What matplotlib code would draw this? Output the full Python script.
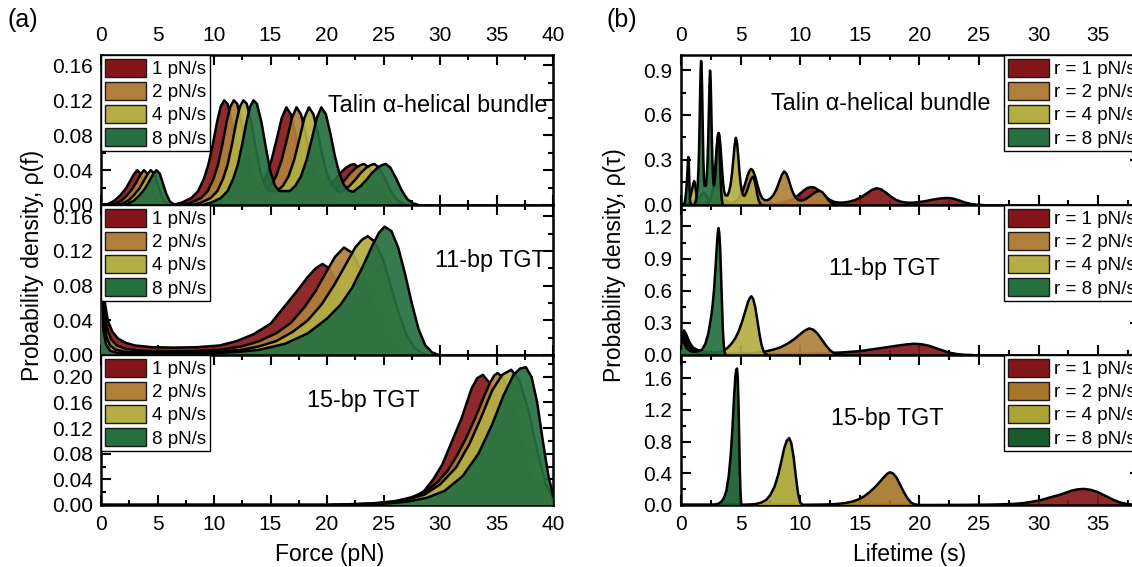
import matplotlib
matplotlib.use("Agg")
import matplotlib.pyplot as plt
from matplotlib.patches import Patch
from matplotlib.ticker import MultipleLocator, FormatStrFormatter

plt.rcParams['font.family'] = ['Liberation Sans', 'DejaVu Sans']

# ---------------- data ----------------
RATE_LABELS_A = ["1 pN/s", "2 pN/s", "4 pN/s", "8 pN/s"]
RATE_LABELS_B = ["r = 1 pN/s", "r = 2 pN/s", "r = 4 pN/s", "r = 8 pN/s"]
PANEL_NAMES = ["Talin \u03b1-helical bundle", "11-bp TGT", "15-bp TGT"]

# (a) Talin, force distributions
TALIN_F_X_1 = [0, 0.6, 1.2, 1.7, 2.2, 2.6, 2.9, 3.2, 3.5, 3.8, 4.1, 4.4, 4.8, 5.2, 6.4, 7.2, 8.0, 8.6, 9.1, 9.5,
               9.9, 10.3, 10.6, 10.9, 11.2, 11.6, 12.0, 12.4, 12.8, 13.2, 13.6, 14.1, 14.6, 15.1, 15.6, 16.0, 16.4,
               16.8, 17.2, 17.6, 18.0, 18.4, 18.8, 19.2, 19.7, 20.2, 20.7, 21.2, 21.7, 22.1, 22.4, 22.8, 23.3, 23.8,
               24.3, 24.8, 25.3]
TALIN_F_X_2 = [0, 1.2, 1.8, 2.3, 2.8, 3.2, 3.5, 3.8, 4.1, 4.4, 4.7, 5.0, 5.4, 5.8, 7.25, 8.05, 8.85, 9.45, 9.95,
               10.35, 10.75, 11.15, 11.45, 11.75, 12.05, 12.45, 12.85, 13.25, 13.65, 14.05, 14.5, 15.0, 15.5, 16.0,
               16.5, 16.9, 17.3, 17.7, 18.1, 18.5, 18.9, 19.3, 19.7, 20.1, 20.6, 21.1, 21.6, 22.1, 22.6, 23.0, 23.3,
               23.7, 24.2, 24.7, 25.2, 25.7, 26.2]
TALIN_F_X_4 = [0, 1.8, 2.4, 2.9, 3.4, 3.8, 4.1, 4.4, 4.7, 5.0, 5.3, 5.6, 6.0, 6.4, 8.1, 8.9, 9.7, 10.3, 10.8, 11.2,
               11.6, 12.0, 12.3, 12.6, 12.9, 13.3, 13.7, 14.1, 14.5, 14.9, 15.6, 16.1, 16.6, 17.1, 17.6, 18.0, 18.4,
               18.8, 19.2, 19.6, 20.0, 20.4, 20.8, 21.2, 21.5, 22.0, 22.5, 23.0, 23.5, 23.9, 24.2, 24.6, 25.1, 25.6,
               26.1, 26.6, 27.1]
TALIN_F_X_8 = [0, 2.3, 2.9, 3.4, 3.9, 4.3, 4.6, 4.9, 5.2, 5.5, 5.8, 6.1, 6.5, 6.9, 9.0, 9.8, 10.6, 11.2, 11.7, 12.1,
               12.5, 12.9, 13.2, 13.5, 13.8, 14.2, 14.6, 15.0, 15.4, 15.8, 16.7, 17.2, 17.7, 18.2, 18.7, 19.1, 19.5,
               19.9, 20.3, 20.7, 21.1, 21.5, 21.9, 22.3, 22.5, 23.0, 23.5, 24.0, 24.5, 24.9, 25.2, 25.6, 26.1, 26.6,
               27.1, 27.6, 28.1]
TALIN_F_Y = [0, 0.001, 0.005, 0.011, 0.019, 0.028, 0.035, 0.040, 0.036, 0.024, 0.012, 0.004, 0.0005, 0, 0, 0.003,
             0.008, 0.016, 0.030, 0.046, 0.070, 0.097, 0.113, 0.120, 0.116, 0.095, 0.065, 0.038, 0.022, 0.016, 0.016,
             0.022, 0.033, 0.052, 0.078, 0.100, 0.112, 0.104, 0.082, 0.056, 0.036, 0.023, 0.017, 0.015, 0.017, 0.022,
             0.029, 0.037, 0.043, 0.046, 0.047, 0.043, 0.031, 0.017, 0.007, 0.002, 0]

# (a) 11-bp TGT, force distributions
F11_X_1 = [0, 0.15, 0.35, 0.6, 1.0, 1.5, 2.2, 3.0, 4.5, 6.5, 8.5, 10.5, 12.0, 13.5, 15.0, 16.3, 17.3, 18.3, 19.0,
           19.6, 20.2, 20.8, 21.4, 22.0, 22.6, 23.2, 23.8, 24.4]
F11_Y_1 = [0.30, 0.10, 0.060, 0.040, 0.027, 0.019, 0.014, 0.011, 0.009, 0.0085, 0.009, 0.011, 0.016, 0.024, 0.036,
           0.057, 0.073, 0.090, 0.100, 0.105, 0.100, 0.086, 0.064, 0.040, 0.020, 0.008, 0.002, 0]
F11_X_2 = [0, 0.1, 0.3, 0.55, 0.9, 1.4, 2.2, 3.5, 5.5, 8.0, 10.5, 12.5, 14.0, 15.5, 16.8, 18.0, 19.0, 19.9, 20.7,
           21.5, 22.2, 22.9, 23.6, 24.3, 25.0, 25.7, 26.3, 27.0]
F11_Y_2 = [0.30, 0.10, 0.050, 0.030, 0.018, 0.011, 0.007, 0.005, 0.004, 0.0045, 0.006, 0.010, 0.016, 0.025, 0.037,
           0.055, 0.074, 0.095, 0.113, 0.124, 0.118, 0.100, 0.073, 0.045, 0.022, 0.008, 0.002, 0]
F11_X_4 = [0, 0.08, 0.25, 0.5, 0.8, 1.3, 2.2, 4.0, 7.0, 10.0, 12.5, 14.0, 15.5, 17.0, 18.3, 19.5, 20.6, 21.6, 22.5,
           23.1, 23.6, 24.2, 24.9, 25.6, 26.3, 27.0, 27.7, 28.4, 29.0]
F11_Y_4 = [0.30, 0.10, 0.040, 0.020, 0.011, 0.006, 0.0035, 0.0025, 0.0025, 0.0035, 0.006, 0.010, 0.016, 0.027,
           0.040, 0.058, 0.080, 0.103, 0.124, 0.133, 0.137, 0.131, 0.112, 0.082, 0.050, 0.024, 0.009, 0.002, 0]
F11_X_8 = [0, 0.06, 0.2, 0.45, 0.8, 1.4, 3.0, 6.0, 10.0, 12.5, 14.0, 16.3, 18.3, 20.0, 21.2, 22.2, 23.2, 24.0, 24.6,
           25.1, 25.7, 26.3, 26.9, 27.5, 28.1, 28.7, 29.3, 29.9]
F11_Y_8 = [0.30, 0.10, 0.030, 0.012, 0.005, 0.0025, 0.0015, 0.0015, 0.002, 0.004, 0.006, 0.013, 0.025, 0.042, 0.058,
           0.077, 0.103, 0.126, 0.141, 0.148, 0.143, 0.124, 0.094, 0.060, 0.030, 0.011, 0.003, 0]

# (a) 15-bp TGT, force distributions
F15_X_1 = [0, 20, 22, 24, 26, 27.2, 28.0, 28.6, 29.4, 30.2, 31.0, 31.9, 32.8, 33.3, 33.8, 34.4, 35.0, 35.6, 36.2,
           36.8, 37.4, 38.0, 38.6]
F15_Y_1 = [0, 0, 0.0008, 0.002, 0.005, 0.010, 0.015, 0.022, 0.040, 0.063, 0.097, 0.135, 0.182, 0.198, 0.203, 0.190,
           0.160, 0.115, 0.070, 0.033, 0.012, 0.003, 0]
F15_X_2 = [0, 20, 24, 26, 27.5, 28.8, 29.8, 30.7, 31.5, 32.3, 33.1, 33.8, 34.4, 34.8, 35.1, 35.6, 36.2, 36.8, 37.4,
           38.0, 38.6, 39.2, 39.8]
F15_Y_2 = [0, 0, 0.0025, 0.006, 0.012, 0.022, 0.036, 0.054, 0.077, 0.104, 0.135, 0.165, 0.190, 0.202, 0.206, 0.198,
           0.170, 0.125, 0.080, 0.042, 0.015, 0.004, 0]
F15_X_4 = [0, 20, 22, 25, 27, 28.6, 30.0, 31.4, 32.6, 33.6, 34.6, 35.5, 36.3, 37.0, 37.8, 38.6, 39.3, 40.0, 40.8]
F15_Y_4 = [0, 0, 0.0005, 0.003, 0.008, 0.016, 0.032, 0.058, 0.095, 0.135, 0.178, 0.203, 0.211, 0.195, 0.150, 0.085,
           0.035, 0.008, 0]
F15_X_8 = [0, 20, 22, 25, 27, 28.8, 30.4, 32.0, 33.4, 34.6, 35.6, 36.5, 37.1, 37.6, 38.1, 38.6, 39.1, 39.6, 40.0, 40.4]
F15_Y_8 = [0, 0, 0.0003, 0.002, 0.005, 0.011, 0.022, 0.045, 0.080, 0.125, 0.170, 0.203, 0.213, 0.215, 0.200, 0.160,
           0.100, 0.045, 0.015, 0]

# (b) Talin, lifetime distributions
TALIN_T_X_1 = [0, 0.6, 1.2, 1.7, 2.2, 2.6, 2.9, 3.2, 3.5, 3.8, 4.1, 4.4, 4.8, 5.2, 6.4, 7.2, 8.0, 8.6, 9.1, 9.5,
               9.9, 10.3, 10.6, 10.9, 11.2, 11.6, 12.0, 12.4, 12.8, 13.2, 13.6, 14.1, 14.6, 15.1, 15.6, 16.0, 16.4,
               16.8, 17.2, 17.6, 18.0, 18.4, 18.8, 19.2, 19.7, 20.2, 20.7, 21.2, 21.7, 22.1, 22.4, 22.8, 23.3, 23.8,
               24.3, 24.8, 25.3]
TALIN_T_Y_1 = [0, 0.001, 0.005, 0.011, 0.019, 0.028, 0.035, 0.040, 0.036, 0.024, 0.012, 0.004, 0.0005, 0, 0, 0.003,
               0.008, 0.016, 0.030, 0.046, 0.070, 0.097, 0.113, 0.120, 0.116, 0.095, 0.065, 0.038, 0.022, 0.016,
               0.016, 0.022, 0.033, 0.052, 0.078, 0.100, 0.112, 0.104, 0.082, 0.056, 0.036, 0.023, 0.017, 0.015,
               0.017, 0.022, 0.029, 0.037, 0.043, 0.046, 0.047, 0.043, 0.031, 0.017, 0.007, 0.002, 0]
TALIN_T_X_2 = [0, 0.6, 0.9, 1.15, 1.4, 1.6, 1.75, 1.9, 2.05, 2.2, 2.35, 2.5, 2.7, 2.9, 3.625, 4.025, 4.425, 4.725,
               4.975, 5.175, 5.375, 5.575, 5.725, 5.875, 6.025, 6.225, 6.425, 6.625, 6.825, 7.025, 7.25, 7.5, 7.75,
               8.0, 8.25, 8.45, 8.65, 8.85, 9.05, 9.25, 9.45, 9.65, 9.85, 10.05, 10.3, 10.55, 10.8, 11.05, 11.3, 11.5,
               11.65, 11.85, 12.1, 12.35, 12.6, 12.85, 13.1]
TALIN_T_Y_2 = [0, 0.002, 0.010, 0.022, 0.038, 0.056, 0.070, 0.080, 0.072, 0.048, 0.024, 0.008, 0.001, 0, 0, 0.006,
               0.016, 0.032, 0.060, 0.092, 0.140, 0.194, 0.226, 0.240, 0.232, 0.190, 0.130, 0.076, 0.044, 0.032,
               0.032, 0.044, 0.066, 0.104, 0.156, 0.200, 0.224, 0.208, 0.164, 0.112, 0.072, 0.046, 0.034, 0.030,
               0.034, 0.044, 0.058, 0.074, 0.086, 0.092, 0.094, 0.086, 0.062, 0.034, 0.014, 0.004, 0]
TALIN_T_X_4 = [0, 0.45, 0.6, 0.725, 0.85, 0.95, 1.025, 1.1, 1.175, 1.25, 1.325, 1.4, 1.5, 1.6, 2.025, 2.225, 2.425,
               2.575, 2.7, 2.8, 2.9, 3.0, 3.075, 3.15, 3.225, 3.325, 3.425, 3.525, 3.625, 3.725, 3.9, 4.025, 4.15,
               4.275, 4.4, 4.5, 4.6, 4.7, 4.8, 4.9, 5.0, 5.1, 5.2, 5.3, 5.375, 5.5, 5.625, 5.75, 5.875, 5.975, 6.05,
               6.15, 6.275, 6.4, 6.525, 6.65, 6.775]
TALIN_T_Y_4 = [0, 0.004, 0.020, 0.044, 0.076, 0.112, 0.140, 0.160, 0.144, 0.096, 0.048, 0.016, 0.002, 0, 0, 0.012,
               0.032, 0.064, 0.120, 0.184, 0.280, 0.388, 0.452, 0.480, 0.464, 0.380, 0.260, 0.152, 0.088, 0.064,
               0.064, 0.088, 0.132, 0.208, 0.312, 0.400, 0.448, 0.416, 0.328, 0.224, 0.144, 0.092, 0.068, 0.060,
               0.068, 0.088, 0.116, 0.148, 0.172, 0.184, 0.188, 0.172, 0.124, 0.068, 0.028, 0.008, 0]
TALIN_T_X_8 = [0, 0.2875, 0.3625, 0.425, 0.4875, 0.5375, 0.575, 0.6125, 0.65, 0.6875, 0.725, 0.7625, 0.8125, 0.8625,
               1.125, 1.225, 1.325, 1.4, 1.4625, 1.5125, 1.5625, 1.6125, 1.65, 1.6875, 1.725, 1.775, 1.825, 1.875,
               1.925, 1.975, 2.0875, 2.15, 2.2125, 2.275, 2.3375, 2.3875, 2.4375, 2.4875, 2.5375, 2.5875, 2.6375,
               2.6875, 2.7375, 2.7875, 2.8125, 2.875, 2.9375, 3.0, 3.0625, 3.1125, 3.15, 3.2, 3.2625, 3.325, 3.3875,
               3.45, 3.5125]
TALIN_T_Y_8 = [0, 0.008, 0.040, 0.088, 0.152, 0.224, 0.280, 0.320, 0.288, 0.192, 0.096, 0.032, 0.004, 0, 0, 0.024,
               0.064, 0.128, 0.240, 0.368, 0.560, 0.776, 0.904, 0.960, 0.928, 0.760, 0.520, 0.304, 0.176, 0.128,
               0.128, 0.176, 0.264, 0.416, 0.624, 0.800, 0.896, 0.832, 0.656, 0.448, 0.288, 0.184, 0.136, 0.130,
               0.150, 0.200, 0.280, 0.370, 0.440, 0.470, 0.480, 0.440, 0.320, 0.170, 0.070, 0.020, 0]

# (b) 11-bp TGT, lifetime distributions
T11_X_1 = [0, 0.1, 0.25, 0.45, 0.7, 1.0, 1.5, 2.2, 3.0, 4.5, 6.5, 8.5, 10.5, 12.0, 13.5, 15.0, 16.3, 17.3, 18.3,
           19.0, 19.6, 20.2, 20.8, 21.4, 22.0, 22.6, 23.2, 23.8, 24.4]
T11_Y_1 = [0.12, 0.20, 0.23, 0.19, 0.12, 0.07, 0.04, 0.025, 0.018, 0.012, 0.010, 0.010, 0.011, 0.016, 0.024, 0.036,
           0.057, 0.073, 0.090, 0.100, 0.105, 0.100, 0.086, 0.064, 0.040, 0.020, 0.008, 0.002, 0]
T11_X_2 = [0, 0.08, 0.2, 0.35, 0.6, 0.9, 1.3, 1.9, 2.8, 4.0, 5.25, 6.25, 7.0, 7.75, 8.4, 9.0, 9.5, 9.95, 10.35,
           10.75, 11.1, 11.45, 11.8, 12.15, 12.5, 12.85, 13.15, 13.5]
T11_Y_2 = [0.10, 0.18, 0.20, 0.16, 0.09, 0.05, 0.03, 0.018, 0.012, 0.010, 0.012, 0.020, 0.032, 0.050, 0.074, 0.110,
           0.148, 0.190, 0.226, 0.248, 0.236, 0.200, 0.146, 0.090, 0.044, 0.016, 0.004, 0]
T11_X_4 = [0, 0.06, 0.15, 0.3, 0.5, 0.8, 1.2, 1.8, 2.5, 3.125, 3.5, 3.875, 4.25, 4.575, 4.875, 5.15, 5.4, 5.625,
           5.775, 5.9, 6.05, 6.225, 6.4, 6.575, 6.75, 6.925, 7.1, 7.25]
T11_Y_4 = [0.08, 0.16, 0.18, 0.13, 0.07, 0.035, 0.02, 0.014, 0.016, 0.024, 0.040, 0.064, 0.108, 0.160, 0.232, 0.320,
           0.412, 0.496, 0.532, 0.548, 0.524, 0.448, 0.328, 0.200, 0.096, 0.036, 0.008, 0]
T11_X_8 = [0, 0.05, 0.15, 0.3, 0.5, 0.8, 1.1, 1.4, 1.75, 2.04, 2.29, 2.5, 2.65, 2.775, 2.9, 3.0, 3.075, 3.14, 3.21,
           3.29, 3.36, 3.44, 3.51, 3.59, 3.66, 3.74]
T11_Y_8 = [0.06, 0.14, 0.15, 0.10, 0.06, 0.035, 0.030, 0.035, 0.048, 0.104, 0.200, 0.336, 0.464, 0.616, 0.824, 1.008,
           1.128, 1.184, 1.144, 0.992, 0.752, 0.480, 0.240, 0.088, 0.024, 0]

# (b) 15-bp TGT, lifetime distributions
T15_X_1 = [0, 20, 22, 24, 26, 27.2, 28.0, 28.6, 29.4, 30.2, 31.0, 31.9, 32.8, 33.3, 33.8, 34.4, 35.0, 35.6, 36.2,
           36.8, 37.4, 38.0, 38.6]
T15_Y_1 = [0, 0, 0.0008, 0.002, 0.005, 0.010, 0.015, 0.022, 0.040, 0.063, 0.097, 0.135, 0.182, 0.198, 0.203, 0.190,
           0.160, 0.115, 0.070, 0.033, 0.012, 0.003, 0]
T15_X_2 = [0, 10, 12, 13, 13.75, 14.4, 14.9, 15.35, 15.75, 16.15, 16.55, 16.9, 17.2, 17.4, 17.55, 17.8, 18.1, 18.4,
           18.7, 19.0, 19.3, 19.6, 19.9]
T15_Y_2 = [0, 0, 0.005, 0.012, 0.024, 0.044, 0.072, 0.108, 0.154, 0.208, 0.270, 0.330, 0.380, 0.404, 0.412, 0.396,
           0.340, 0.250, 0.160, 0.084, 0.030, 0.008, 0]
T15_X_4 = [0, 5, 5.5, 6.25, 6.75, 7.15, 7.5, 7.85, 8.15, 8.4, 8.65, 8.875, 9.075, 9.25, 9.45, 9.65, 9.825, 10.0, 10.2]
T15_Y_4 = [0, 0, 0.002, 0.012, 0.032, 0.064, 0.128, 0.232, 0.380, 0.540, 0.712, 0.812, 0.844, 0.780, 0.600, 0.340,
           0.140, 0.032, 0]
T15_X_8 = [0, 2.5, 2.75, 3.125, 3.375, 3.6, 3.8, 4.0, 4.175, 4.325, 4.45, 4.5625, 4.6375, 4.7, 4.7625, 4.825, 4.8875,
           4.95, 5.0, 5.05]
T15_Y_8 = [0, 0, 0.0024, 0.016, 0.040, 0.088, 0.176, 0.360, 0.640, 1.000, 1.360, 1.624, 1.704, 1.720, 1.600, 1.280,
           0.800, 0.360, 0.120, 0]

# ---------------- style ----------------
COLORS = ['#84161A', '#B0803A', '#B4AE44', '#266F40']
COLORS_DARK = ['#84161A', '#A6772A', '#ABA436', '#185C2E']
FILL_ALPHA = 0.92

W, H = 1132, 567
fig = plt.figure(figsize=(W / 100, H / 100), dpi=100)


def rect(x0, x1, y0, y1):
    return [x0 / W, 1 - y1 / H, (x1 - x0) / W, (y1 - y0) / H]


ROWS = [(55, 205), (205, 355), (355, 505)]
LX = (101, 553)
RX = (681, 1140)


def style(ax, xlim, ylim, ymaj, ymin, yfmt, labeltop, labelbottom):
    ax.set_xlim(*xlim)
    ax.set_ylim(*ylim)
    ax.xaxis.set_major_locator(MultipleLocator(5))
    ax.xaxis.set_minor_locator(MultipleLocator(2.5))
    ax.yaxis.set_major_locator(MultipleLocator(ymaj))
    ax.yaxis.set_minor_locator(MultipleLocator(ymin))
    ax.yaxis.set_major_formatter(FormatStrFormatter(yfmt))
    ax.tick_params(which='both', direction='in', top=True, right=True, width=1.5,
                   labelsize=15, labeltop=labeltop, labelbottom=labelbottom, pad=6)
    ax.tick_params(axis='x', which='major', pad=7)
    ax.tick_params(which='major', length=7)
    ax.tick_params(which='minor', length=3.5)
    for s in ax.spines.values():
        s.set_linewidth(1.8)


def draw(ax, curves, colors):
    z = 2
    for (x, y), c in zip(curves, colors):
        ax.fill_between(x, y, 0, facecolor=c, alpha=FILL_ALPHA, lw=0, zorder=z)
        ax.plot(x, y, color='black', lw=1.8, zorder=z + 0.5, solid_joinstyle='round')
        z += 1


def legend(ax, labels, colors, loc, anchor):
    handles = [Patch(facecolor=c, edgecolor='#1a1a1a', lw=1.0) for c in colors]
    lg = ax.legend(handles, labels, loc=loc, bbox_to_anchor=anchor, borderaxespad=0,
                   fontsize=13.5, handlelength=2.2, handleheight=1.1, handletextpad=0.3,
                   labelspacing=0.2, borderpad=0.2, fancybox=False, framealpha=1,
                   edgecolor='black')
    lg.get_frame().set_linewidth(1.0)
    lg.set_zorder(20)


left_data = [
    [(TALIN_F_X_1, TALIN_F_Y), (TALIN_F_X_2, TALIN_F_Y), (TALIN_F_X_4, TALIN_F_Y), (TALIN_F_X_8, TALIN_F_Y)],
    [(F11_X_1, F11_Y_1), (F11_X_2, F11_Y_2), (F11_X_4, F11_Y_4), (F11_X_8, F11_Y_8)],
    [(F15_X_1, F15_Y_1), (F15_X_2, F15_Y_2), (F15_X_4, F15_Y_4), (F15_X_8, F15_Y_8)],
]
right_data = [
    [(TALIN_T_X_1, TALIN_T_Y_1), (TALIN_T_X_2, TALIN_T_Y_2), (TALIN_T_X_4, TALIN_T_Y_4), (TALIN_T_X_8, TALIN_T_Y_8)],
    [(T11_X_1, T11_Y_1), (T11_X_2, T11_Y_2), (T11_X_4, T11_Y_4), (T11_X_8, T11_Y_8)],
    [(T15_X_1, T15_Y_1), (T15_X_2, T15_Y_2), (T15_X_4, T15_Y_4), (T15_X_8, T15_Y_8)],
]

left_ylims = [(0, 0.172), (0, 0.173), (0, 0.234)]
left_ymaj = [0.04, 0.04, 0.04]
right_ylims = [(0, 1.0), (0, 1.40), (0, 1.89)]
right_ymaj = [0.3, 0.3, 0.4]

left_text = [(0.988, 0.66, 'right'), (0.985, 0.63, 'right'), (0.58, 0.70, 'center')]
right_text = [(0.434, 0.68, 'center'), (0.444, 0.58, 'center'), (0.45, 0.58, 'center')]

for i, (y0, y1) in enumerate(ROWS):
    axl = fig.add_axes(rect(LX[0], LX[1], y0, y1))
    draw(axl, left_data[i], COLORS)
    style(axl, (0, 40), left_ylims[i], left_ymaj[i], left_ymaj[i] / 2, '%.2f', i == 0, i == 2)
    legend(axl, RATE_LABELS_A, COLORS, 'upper left', (0, 1))
    tx, ty, ha = left_text[i]
    axl.text(tx, ty, PANEL_NAMES[i], transform=axl.transAxes, ha=ha, va='center', fontsize=16.8, zorder=15)

    axr = fig.add_axes(rect(RX[0], RX[1], y0, y1))
    cols = COLORS_DARK if i == 2 else COLORS
    draw(axr, right_data[i], cols)
    style(axr, (0, 38.5), right_ylims[i], right_ymaj[i], right_ymaj[i] / 2, '%.1f', i == 0, i == 2)
    legend(axr, RATE_LABELS_B, cols, 'upper right', (1, 1))
    tx, ty, ha = right_text[i]
    axr.text(tx, ty, PANEL_NAMES[i], transform=axr.transAxes, ha=ha, va='center', fontsize=16.8, zorder=15)

fig.text(23 / W, 1 - 20 / H, '(a)', ha='center', va='center', fontsize=18)
fig.text(622 / W, 1 - 20 / H, '(b)', ha='center', va='center', fontsize=18)
fig.text(33 / W, 1 - 265 / H, 'Probability density, \u03c1(f)', rotation=90, ha='center', va='center', fontsize=16.5)
fig.text(614 / W, 1 - 265 / H, 'Probability density, \u03c1(\u03c4)', rotation=90, ha='center', va='center', fontsize=16.5)
fig.text(330 / W, 1 - 554 / H, 'Force (pN)', ha='center', va='center', fontsize=16.5)
fig.text(910 / W, 1 - 554 / H, 'Lifetime (s)', ha='center', va='center', fontsize=16.5)

fig.savefig('out.png', dpi=100)
